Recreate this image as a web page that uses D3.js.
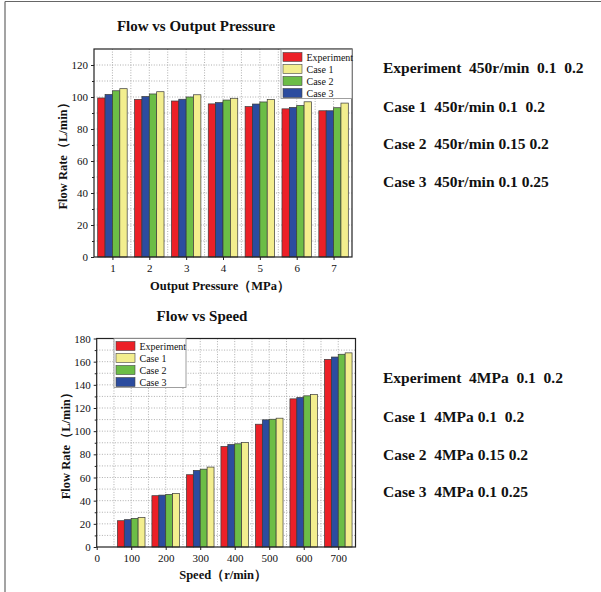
<!DOCTYPE html>
<html>
<head>
<meta charset="utf-8">
<script src="https://cdn.jsdelivr.net/npm/d3@7"></script>
<style>
  html, body { margin: 0; padding: 0; background: #fff; }
  svg text { font-family: "Liberation Serif", "Times New Roman", serif; fill: #111; }
</style>
</head>
<body>
<svg id="chart" width="601" height="592"></svg>
<script>
// ---------- DATA ----------
const seriesNames = ["Experiment", "Case 1", "Case 2", "Case 3"];
const seriesColors = ["#ec2027", "#f3ee8e", "#6cbd46", "#2c4c9f"];
// bars are drawn in this order inside each group (as in the original figure)
const barOrder = ["Experiment", "Case 3", "Case 2", "Case 1"];

const pressureCats = [1, 2, 3, 4, 5, 6, 7];
const pressureExp   = [99.4, 98.5, 97.5, 95.7, 94.0, 92.6, 91.4];
const pressureCase1 = [105.2, 103.3, 101.4, 99.2, 98.4, 97.0, 96.2];
const pressureCase2 = [103.9, 101.9, 100.0, 98.1, 96.9, 94.7, 93.3];
const pressureCase3 = [101.6, 100.3, 98.6, 96.5, 95.6, 93.5, 91.4];
const pressureYTicks = [0, 20, 40, 60, 80, 100, 120];

const speedCats = [100, 200, 300, 400, 500, 600, 700];
const speedExp   = [22.7, 44.3, 62.4, 86.8, 106.0, 127.9, 162.0];
const speedCase1 = [25.6, 46.3, 69.0, 90.3, 111.2, 131.6, 167.6];
const speedCase2 = [24.7, 45.4, 67.2, 89.1, 110.3, 130.5, 166.4];
const speedCase3 = [23.6, 44.8, 66.1, 88.5, 109.8, 129.1, 164.0];
const speedXTicks = [0, 100, 200, 300, 400, 500, 600, 700];
const speedYTicks = [0, 20, 40, 60, 80, 100, 120, 140, 160, 180];

const pressureNotes = [
  "Experiment  450r/min  0.1  0.2",
  "Case 1  450r/min 0.1  0.2",
  "Case 2  450r/min 0.15 0.2",
  "Case 3  450r/min 0.1 0.25"
];
const speedNotes = [
  "Experiment  4MPa  0.1  0.2",
  "Case 1  4MPa 0.1  0.2",
  "Case 2  4MPa 0.15 0.2",
  "Case 3  4MPa 0.1 0.25"
];

// ---------- DRAW ----------
const svg = d3.select("#chart");
const color = d3.scaleOrdinal().domain(seriesNames).range(seriesColors);

// outer frame (top + left)
svg.append("line").attr("x1", 5).attr("x2", 601).attr("y1", 1.5).attr("y2", 1.5).attr("stroke", "#666").attr("stroke-width", 1.2);
svg.append("line").attr("x1", 5).attr("x2", 5).attr("y1", 1.5).attr("y2", 592).attr("stroke", "#666").attr("stroke-width", 1.2);

function drawChart(cfg) {
  const g = svg.append("g");
  const x = d3.scaleLinear().domain(cfg.xDomain).range([cfg.left, cfg.right]);
  const y = d3.scaleLinear().domain(cfg.yDomain).range([cfg.bottom, cfg.top]);

  // grid
  const grid = g.append("g").attr("stroke", "#9a9a9a").attr("stroke-width", 0.8).attr("stroke-dasharray", "1,1.6");
  grid.selectAll("line.v").data(cfg.vGrid).join("line")
    .attr("x1", d => x(d)).attr("x2", d => x(d)).attr("y1", cfg.top).attr("y2", cfg.bottom);
  grid.selectAll("line.h").data(cfg.hGrid).join("line")
    .attr("x1", cfg.left).attr("x2", cfg.right).attr("y1", d => y(d)).attr("y2", d => y(d));

  // bars
  const rows = cfg.cats.map((c, i) => ({ cat: c, vals: barOrder.map(n => ({ name: n, v: cfg.series[n][i] })) }));
  const bw = cfg.barW;
  const groups = g.selectAll("g.grp").data(rows).join("g");
  groups.selectAll("rect").data(d => d.vals.map((v, j) => ({ ...v, cat: d.cat, j }))).join("rect")
    .attr("x", d => x(d.cat - 2 * bw + d.j * bw))
    .attr("width", d => x(d.cat + bw) - x(d.cat))
    .attr("y", d => y(d.v))
    .attr("height", d => y(0) - y(d.v))
    .attr("fill", d => color(d.name))
    .attr("stroke", "#3a3a3a").attr("stroke-width", 0.7);

  // frame
  g.append("rect").attr("x", cfg.left).attr("y", cfg.top)
    .attr("width", cfg.right - cfg.left).attr("height", cfg.bottom - cfg.top)
    .attr("fill", "none").attr("stroke", "#222").attr("stroke-width", 1.2);

  // axes
  const yAxis = g.append("g").attr("transform", `translate(${cfg.left},0)`)
    .call(d3.axisLeft(y).tickValues(cfg.yTicks).tickSize(3).tickPadding(3).tickFormat(d3.format("d")));
  const yMinor = g.append("g").attr("transform", `translate(${cfg.left},0)`)
    .call(d3.axisLeft(y).tickValues(cfg.hGrid.filter(v => !cfg.yTicks.includes(v))).tickSize(2).tickFormat(""));
  const xAxis = g.append("g").attr("transform", `translate(0,${cfg.bottom})`)
    .call(d3.axisBottom(x).tickValues(cfg.xTicks).tickSize(3).tickPadding(4).tickFormat(d3.format("d")));
  [yAxis, yMinor, xAxis].forEach(a => {
    a.select(".domain").remove();
    a.selectAll("line").attr("stroke", "#222");
    a.selectAll("text").attr("font-family", "Liberation Serif, serif").attr("font-size", 11).attr("fill", "#222");
  });

  // titles
  g.append("text").attr("x", cfg.titleX).attr("y", cfg.titleY).attr("text-anchor", "middle")
    .attr("font-weight", "bold").attr("font-size", 15).text(cfg.title);
  g.append("text").attr("x", (cfg.left + cfg.right) / 2 - 3).attr("y", cfg.xTitleY).attr("text-anchor", "middle")
    .attr("font-weight", "bold").attr("font-size", 12.5).text(cfg.xTitle);
  g.append("text").attr("transform", `translate(${cfg.yTitleX},${(cfg.top + cfg.bottom) / 2}) rotate(-90)`)
    .attr("text-anchor", "middle").attr("font-weight", "bold").attr("font-size", 12.5).text(cfg.yTitle);

  // legend
  const lg = g.append("g");
  lg.append("rect").attr("x", cfg.legX).attr("y", cfg.legY).attr("width", cfg.legW).attr("height", 49)
    .attr("fill", "#fff").attr("stroke", "#888").attr("stroke-width", 0.8);
  const li = lg.selectAll("g").data(seriesNames).join("g")
    .attr("transform", (d, i) => `translate(${cfg.legX + 2},${cfg.legY + 3 + i * 12})`);
  li.append("rect").attr("width", 19).attr("height", 9).attr("fill", d => color(d)).attr("stroke", "#444").attr("stroke-width", 0.6);
  li.append("text").attr("x", 23.5).attr("y", 8.5).attr("font-size", 10).attr("fill", "#222").text(d => d);
}

drawChart({
  left: 94, right: 352, top: 49, bottom: 257,
  xDomain: [0.5, 7.5], yDomain: [0, 130],
  cats: pressureCats,
  series: { "Experiment": pressureExp, "Case 1": pressureCase1, "Case 2": pressureCase2, "Case 3": pressureCase3 },
  barW: 0.2,
  vGrid: d3.range(1, 7.01, 0.5), hGrid: d3.range(10, 121, 10),
  xTicks: pressureCats, yTicks: pressureYTicks,
  title: "Flow vs Output Pressure", titleX: 196, titleY: 31,
  xTitle: "Output Pressure（MPa）", xTitleY: 290,
  yTitle: "Flow Rate（L/min）", yTitleX: 67,
  legX: 281, legY: 49.5, legW: 71
});

drawChart({
  left: 96.7, right: 355.5, top: 338.5, bottom: 547,
  xDomain: [0, 750], yDomain: [0, 180],
  cats: speedCats,
  series: { "Experiment": speedExp, "Case 1": speedCase1, "Case 2": speedCase2, "Case 3": speedCase3 },
  barW: 20,
  vGrid: d3.range(50, 701, 50), hGrid: d3.range(10, 171, 10),
  xTicks: speedXTicks, yTicks: speedYTicks,
  title: "Flow vs Speed", titleX: 202, titleY: 321,
  xTitle: "Speed（r/min）", xTitleY: 579,
  yTitle: "Flow Rate（L/min）", yTitleX: 70,
  legX: 114, legY: 338.5, legW: 72
});

// notes on the right
function drawNotes(lines, ys) {
  svg.append("g").selectAll("text").data(lines).join("text")
    .attr("x", 383).attr("y", (d, i) => ys[i] + 5.5)
    .attr("font-weight", "bold").attr("font-size", 15.5).attr("fill", "#111")
    .style("white-space", "pre").text(d => d);
}
drawNotes(pressureNotes, [67.3, 106, 143.3, 181.7]);
drawNotes(speedNotes, [377.3, 416, 454, 491.7]);
</script>
</body>
</html>
